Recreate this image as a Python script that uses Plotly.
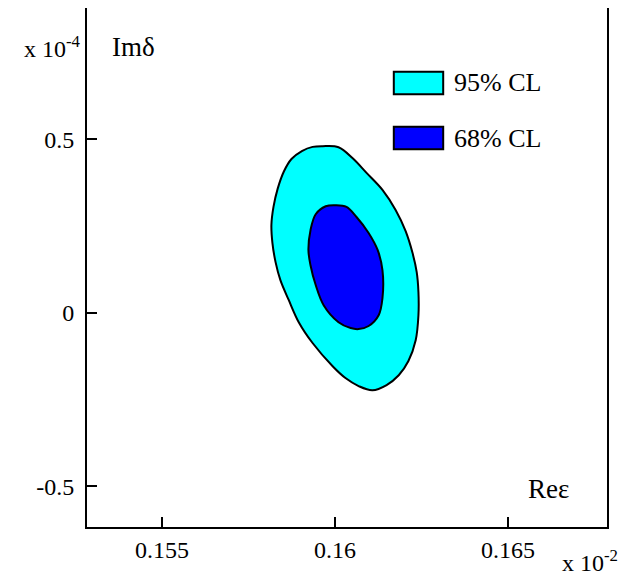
import plotly.graph_objects as go

# Contour points (Re eps in units of 1e-2, Im delta in units of 1e-4)
cl95_re = [0.15964, 0.16010, 0.16051, 0.16091, 0.16137, 0.16175, 0.16204, 0.16224,
           0.16236, 0.16241, 0.16241, 0.16233, 0.16212, 0.16184, 0.16149, 0.16108,
           0.16068, 0.16030, 0.15993, 0.15935, 0.15895, 0.15866, 0.15842, 0.15828,
           0.15819, 0.15816, 0.15822, 0.15834, 0.15852, 0.15874, 0.15904, 0.15935, 0.15964]
cl95_im = [0.480, 0.477, 0.445, 0.403, 0.354, 0.296, 0.235, 0.172,
           0.117, 0.060, -0.007, -0.079, -0.139, -0.180, -0.208, -0.223,
           -0.211, -0.188, -0.154, -0.087, -0.027, 0.037, 0.094, 0.146,
           0.201, 0.253, 0.305, 0.357, 0.407, 0.443, 0.466, 0.478, 0.480]

cl68_re = [0.16001, 0.16033, 0.16062, 0.16097, 0.16123, 0.16137, 0.16137, 0.16126,
           0.16097, 0.16068, 0.16045, 0.16010, 0.15967, 0.15944, 0.15929, 0.15923,
           0.15929, 0.15944, 0.15973, 0.16001]
cl68_im = [0.310, 0.305, 0.276, 0.230, 0.181, 0.123, 0.042, -0.007,
           -0.038, -0.047, -0.044, -0.027, 0.022, 0.080, 0.137, 0.181,
           0.238, 0.284, 0.307, 0.310]

x_tickvals = [0.155, 0.16, 0.165]
x_ticktext = ["0.155", "0.16", "0.165"]
y_tickvals = [0.5, 0, -0.5]
y_ticktext = ["0.5", "0", "-0.5"]
legend_labels = ["95% CL", "68% CL"]
colors = ["#00FFFF", "#0000FF"]

SERIF = "Liberation Serif, Times New Roman, serif"

fig = go.Figure()
fig.add_trace(go.Scatter(x=cl95_re, y=cl95_im, mode="lines", fill="toself",
                         fillcolor=colors[0], line=dict(color="black", width=2, shape="spline", smoothing=1.0),
                         name=legend_labels[0], showlegend=False, hoverinfo="skip"))
fig.add_trace(go.Scatter(x=cl68_re, y=cl68_im, mode="lines", fill="toself",
                         fillcolor=colors[1], line=dict(color="black", width=2, shape="spline", smoothing=1.0),
                         name=legend_labels[1], showlegend=False, hoverinfo="skip"))

W, H = 618, 573
L, R, T, B = 87, 11, 8, 46

fig.update_layout(
    width=W, height=H, autosize=False,
    margin=dict(l=L, r=R, t=T, b=B),
    paper_bgcolor="white", plot_bgcolor="white",
    font=dict(family=SERIF, size=24, color="black"),
    xaxis=dict(range=[0.15283, 0.16786], tickvals=x_tickvals, ticktext=x_ticktext,
               showgrid=False, zeroline=False, showline=True, linecolor="black", linewidth=2,
               ticks="inside", ticklen=10, tickwidth=2, tickcolor="black", mirror=False,
               tickfont=dict(family=SERIF, size=24, color="black")),
    yaxis=dict(range=[-0.617, 0.878], tickvals=y_tickvals, ticktext=y_ticktext,
               showgrid=False, zeroline=False, showline=True, linecolor="black", linewidth=2,
               ticks="inside", ticklen=10, tickwidth=2, tickcolor="black", mirror=True,
               ticklabelstandoff=6,
               tickfont=dict(family=SERIF, size=24, color="black")),
)

# Legend boxes and labels
box_y = [(0.877, 0.834), (0.771, 0.728)]
for (y1, y0), c, lab in zip(box_y, colors, legend_labels):
    fig.add_shape(type="rect", xref="paper", yref="paper", x0=0.590, x1=0.685, y0=y0, y1=y1,
                  fillcolor=c, line=dict(color="black", width=2))
    fig.add_annotation(xref="paper", yref="paper", x=0.702, y=(y0 + y1) / 2, text=lab,
                       showarrow=False, xanchor="left", yanchor="middle",
                       font=dict(family=SERIF, size=26, color="black"))

ann_font = dict(family=SERIF, size=24, color="black")
big_font = dict(family=SERIF, size=27, color="black")
fig.add_annotation(xref="paper", yref="paper", x=-0.125, y=0.925, text="x 10<sup>-4</sup>",
                   showarrow=False, xanchor="left", yanchor="middle", font=ann_font)
fig.add_annotation(xref="paper", yref="paper", x=0.044, y=0.925, text="Imδ",
                   showarrow=False, xanchor="left", yanchor="middle", font=big_font)
fig.add_annotation(xref="paper", yref="paper", x=0.887, y=0.073, text="Reε",
                   showarrow=False, xanchor="center", yanchor="middle", font=big_font)
fig.add_annotation(xref="paper", yref="paper", x=0.910, y=-0.0655, text="x 10<sup>-2</sup>",
                   showarrow=False, xanchor="left", yanchor="middle", font=ann_font)

fig.write_html("out.html")
